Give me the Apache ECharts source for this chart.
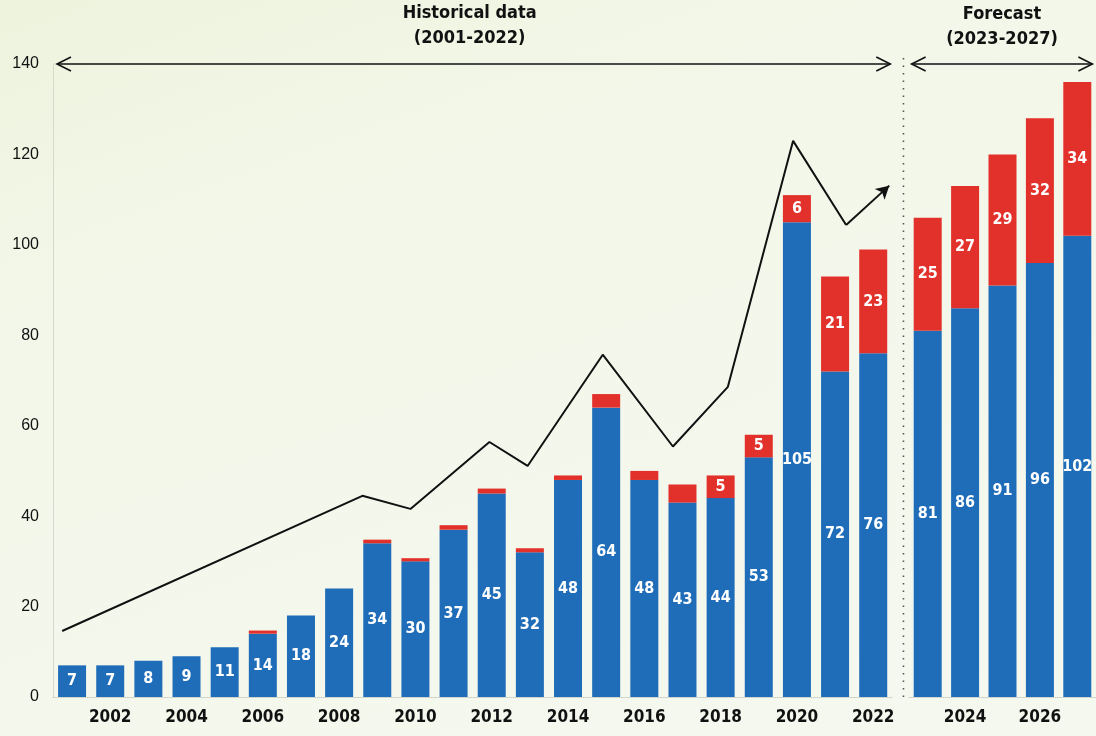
<!DOCTYPE html>
<html>
<head>
<meta charset="utf-8">
<script src="https://cdn.jsdelivr.net/npm/echarts@6/dist/echarts.min.js"></script>
<style>
html,body{margin:0;padding:0;}
body{background:linear-gradient(160deg,#eef3de 0%,#f3f7e9 30%,#f5f8ef 100%);}
#c{width:1096px;height:736px;}
</style>
</head>
<body>
<div id="c"></div>
<script>
// ---- data ----
var histYears = ['2001','2002','2003','2004','2005','2006','2007','2008','2009','2010','2011','2012','2013','2014','2015','2016','2017','2018','2019','2020','2021','2022'];
var histBlue  = [7,7,8,9,11,14,18,24,34,30,37,45,32,48,64,48,43,44,53,105,72,76];
var histRed   = [0,0,0,0,0,0.7,0,0,0.8,0.7,1,1.1,0.9,1,3,2,4,5,5,6,21,23];
var fcYears   = ['2023','2024','2025','2026','2027'];
var fcBlue    = [81,86,91,96,102];
var fcRed     = [25,27,29,32,34];
// trend line: [year position, value]
var trendLine = [[2000.74,14.6],[2008.61,44.5],[2009.87,41.6],[2011.94,56.4],[2012.94,51.1],[2014.91,75.7],[2016.75,55.4],[2018.19,68.6],[2019.90,123.0],[2021.29,104.4]];
var trendArrowEnd = [2022.42,113.1];
var yTicks = [0,20,40,60,80,100,120,140];
var histTitle = ['Historical data','(2001-2022)'];
var fcTitle = ['Forecast','(2023-2027)'];

var BLUE = '#1f6db8', RED = '#e2302a';
var COND = '"Liberation Sans Narrow","DejaVu Sans Condensed","Arial Narrow",sans-serif';
var BASE = '"Liberation Sans","Helvetica",Arial,sans-serif';

var catW = 38.15;
var g1Left = 53, g1W = catW * histYears.length;
var g2Left = 909, g2W = catW * fcYears.length;
var gTop = 64, gBottom = 39;

function evenLabel(idx, val){ return parseInt(val,10) % 2 === 0; }

var labelBlue = {show:true, position:'inside', color:'#fff', fontFamily:COND, fontWeight:'bold', fontSize:16,
  formatter:function(p){return p.value;}};
var labelRed = {show:true, position:'inside', color:'#fff', fontFamily:COND, fontWeight:'bold', fontSize:16,
  formatter:function(p){return p.value >= 5 ? p.value : '';}};

var chart = echarts.init(document.getElementById('c'), null, {renderer:'canvas'});
var option = {
  backgroundColor:'transparent',
  animation:false,
  grid:[
    {left:g1Left, top:gTop, width:g1W, bottom:gBottom},
    {left:g2Left, top:gTop, width:g2W, bottom:gBottom}
  ],
  xAxis:[
    {type:'category', gridIndex:0, data:histYears,
     axisLine:{show:true, lineStyle:{color:'#c9cdc4', type:'dotted', width:1}},
     axisTick:{show:false},
     axisLabel:{interval:function(i,v){return evenLabel(i,v);}, color:'#111', fontFamily:COND, fontWeight:'bold', fontSize:17, margin:12}},
    {type:'category', gridIndex:1, data:fcYears,
     axisLine:{show:true, lineStyle:{color:'#c9cdc4', type:'dotted', width:1}},
     axisTick:{show:false},
     axisLabel:{interval:function(i,v){return evenLabel(i,v);}, color:'#111', fontFamily:COND, fontWeight:'bold', fontSize:17, margin:12}},
    {type:'value', gridIndex:0, min:2000.5, max:2022.5, show:false}
  ],
  yAxis:[
    {type:'value', gridIndex:0, min:yTicks[0], max:yTicks[yTicks.length-1], interval:20,
     axisLine:{show:true, lineStyle:{color:'#cfd3c9', type:'dotted', width:1}},
     axisTick:{show:false}, splitLine:{show:false},
     axisLabel:{color:'#111', fontFamily:BASE, fontSize:16, margin:14}},
    {type:'value', gridIndex:1, min:0, max:140, interval:20, show:false, splitLine:{show:false}}
  ],
  series:[
    {type:'bar', xAxisIndex:0, yAxisIndex:0, stack:'h', data:histBlue, barWidth:28,
     itemStyle:{color:BLUE}, label:labelBlue},
    {type:'bar', xAxisIndex:0, yAxisIndex:0, stack:'h', data:histRed, barWidth:28,
     itemStyle:{color:RED}, label:labelRed},
    {type:'bar', xAxisIndex:1, yAxisIndex:1, stack:'f', data:fcBlue, barWidth:28,
     itemStyle:{color:BLUE}, label:labelBlue},
    {type:'bar', xAxisIndex:1, yAxisIndex:1, stack:'f', data:fcRed, barWidth:28,
     itemStyle:{color:RED}, label:labelRed},
    {type:'line', xAxisIndex:2, yAxisIndex:0, data:trendLine, showSymbol:false, symbol:'none',
     lineStyle:{color:'#111', width:2}, z:5,
     markLine:{silent:true, symbol:['none','arrow'], symbolSize:[11,13], label:{show:false},
       lineStyle:{color:'#111', width:2, type:'solid'},
       data:[[{coord:trendLine[trendLine.length-1]},{coord:trendArrowEnd}]]}}
  ]
};
chart.setOption(option);

// annotations placed through the chart's own scales
function px(gridIndex, cat, val){ return chart.convertToPixel({gridIndex:gridIndex}, [cat, val]); }
var topY = px(0, histYears[0], 140)[1];
var bottomY = px(0, histYears[0], 0)[1];
var h0 = px(0, histYears[0], 140)[0] - catW/2 + 4;
var h1 = px(0, histYears[histYears.length-1], 140)[0] + catW/2 - 2;
var f0 = px(1, fcYears[0], 140)[0] - catW/2 + 3;
var f1 = px(1, fcYears[fcYears.length-1], 140)[0] + catW/2 - 4;
var sepX = (px(0, histYears[histYears.length-1], 0)[0] + px(1, fcYears[0], 0)[0]) / 2 + 3;

function doubleArrow(x0, x1, y){
  var ah = 14, aw = 7;
  return [
    {type:'line', shape:{x1:x0, y1:y, x2:x1, y2:y}, style:{stroke:'#111', lineWidth:1.6}},
    {type:'polyline', shape:{points:[[x0+ah,y-aw],[x0,y],[x0+ah,y+aw]]}, style:{stroke:'#111', lineWidth:1.6, fill:null}},
    {type:'polyline', shape:{points:[[x1-ah,y-aw],[x1,y],[x1-ah,y+aw]]}, style:{stroke:'#111', lineWidth:1.6, fill:null}}
  ];
}
var titleStyle = {fill:'#111', font:'bold 18px ' + COND, textAlign:'center'};
var graphics = [].concat(
  doubleArrow(h0, h1, topY),
  doubleArrow(f0, f1, topY),
  [
    {type:'line', shape:{x1:sepX, y1:topY-6, x2:sepX, y2:bottomY}, style:{stroke:'#555', lineWidth:1.6, lineDash:[1.5,6]}},
    {type:'text', x:(h0+h1)/2 - 4, y:4, style:Object.assign({text:histTitle[0]}, titleStyle)},
    {type:'text', x:(h0+h1)/2 - 4, y:29, style:Object.assign({text:histTitle[1]}, titleStyle)},
    {type:'text', x:(f0+f1)/2, y:5, style:Object.assign({text:fcTitle[0]}, titleStyle)},
    {type:'text', x:(f0+f1)/2, y:30, style:Object.assign({text:fcTitle[1]}, titleStyle)}
  ]
);
chart.setOption({graphic:graphics});
</script>
</body>
</html>
